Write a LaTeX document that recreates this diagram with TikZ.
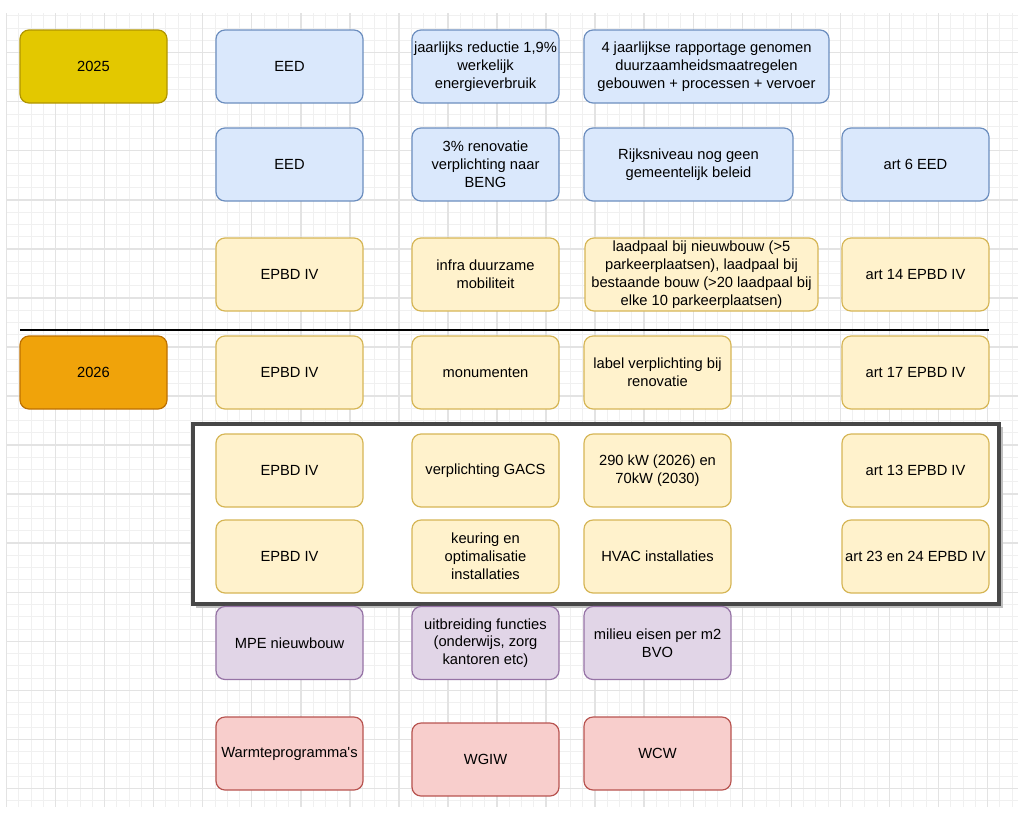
\documentclass[tikz,border=0pt]{standalone}
\usepackage{fontspec}
\setmainfont{Liberation Sans}
\newfontfamily\plainsans{Liberation Sans}
\newcommand\bxfont{\fontsize{14.7}{17.8}\selectfont}
\definecolor{blueF}{HTML}{DAE8FC}\definecolor{blueS}{HTML}{6C8EBF}
\definecolor{yelF}{HTML}{FFF2CC}\definecolor{yelS}{HTML}{D6B656}
\definecolor{purF}{HTML}{E1D5E7}\definecolor{purS}{HTML}{9673A6}
\definecolor{redF}{HTML}{F8CECC}\definecolor{redS}{HTML}{B85450}
\definecolor{goldF}{HTML}{E3C800}\definecolor{goldS}{HTML}{B09500}
\definecolor{orF}{HTML}{F0A30A}\definecolor{orS}{HTML}{BD7000}
\tikzset{
  bx/.style={rounded corners=9pt, draw, line width=1.2pt, inner sep=2pt, align=center,
    font=\bxfont, text=black, minimum width=147pt, minimum height=73pt},
  eedbox/.style={bx, fill=blueF, draw=blueS},
  epbdbox/.style={bx, fill=yelF, draw=yelS},
  mpebox/.style={bx, fill=purF, draw=purS},
  warmbox/.style={bx, fill=redF, draw=redS},
  yrA/.style={bx, fill=goldF, draw=goldS},
  yrB/.style={bx, fill=orF, draw=orS},
  minorline/.style={draw=black!6, line width=0.9pt},
  majorline/.style={draw=black!11, line width=1.4pt},
}
\begin{document}
\begin{tikzpicture}[x=1pt,y=-1pt]
\useasboundingbox[fill=white] (0,0) rectangle (1024,833);
% grid
\foreach \k in {0,...,82} \draw[minorline] ({6.5+12.2625*\k},13) -- ({6.5+12.2625*\k},807);
\foreach \k in {1,...,65} \draw[minorline] (7,{3.6+12.2625*\k}) -- (1018,{3.6+12.2625*\k});
\foreach \k in {0,...,20} \draw[majorline] ({6.5+49.05*\k},13) -- ({6.5+49.05*\k},807);
\foreach \k in {1,...,16} \draw[majorline] (7,{3.6+49.05*\k}) -- (1018,{3.6+49.05*\k});
% frame
\fill[black!25] (196,427) rectangle (1002.5,607.5);
\draw[line width=3.5pt, draw=black!72, fill=white] (193,424) rectangle (999,604);
% separator
\coordinate (sepL) at (20,330);
\coordinate (sepR) at (989,330);
\draw[line width=2.2pt, black] (sepL) -- (sepR);
% row 1
\node[yrA] (y25) at (93.5,66.5) {2025};
\node[eedbox] (eed1) at (289.5,66.5) {EED};
\node[eedbox] (jaar) at (485.5,66.5) {jaarlijks reductie 1,9\%\\werkelijk\\energieverbruik};
\node[eedbox, minimum width=245pt] (rapp) at (706.5,66.5) {4 jaarlijkse rapportage genomen\\duurzaamheidsmaatregelen\\gebouwen + processen + vervoer};
% row 2
\node[eedbox] (eed2) at (289.5,164.5) {EED};
\node[eedbox] (reno) at (485.5,164.5) {3\% renovatie\\verplichting naar\\BENG};
\node[eedbox, minimum width=209pt] (rijk) at (688.5,164.5) {Rijksniveau nog geen\\gemeentelijk beleid};
\node[eedbox] (art6) at (915.5,164.5) {art 6 EED};
% row 3
\node[epbdbox] (epbd1) at (289.5,274.5) {EPBD IV};
\node[epbdbox] (infra) at (485.5,274.5) {infra duurzame\\mobiliteit};
\node[epbdbox, minimum width=233pt] (laad) at (701.5,274.5) {laadpaal bij nieuwbouw (>5\\parkeerplaatsen), laadpaal bij\\bestaande bouw (>20 laadpaal bij\\elke 10 parkeerplaatsen)};
\node[epbdbox] (art14) at (915.5,274.5) {art 14 EPBD IV};
% row 4
\node[yrB] (y26) at (93.5,372.5) {2026};
\node[epbdbox] (epbd2) at (289.5,372.5) {EPBD IV};
\node[epbdbox] (monu) at (485.5,372.5) {monumenten};
\node[epbdbox] (label) at (657.5,372.5) {label verplichting bij\\renovatie};
\node[epbdbox] (art17) at (915.5,372.5) {art 17 EPBD IV};
% row 5
\node[epbdbox] (epbd3) at (289.5,470.5) {EPBD IV};
\node[epbdbox] (gacs) at (485.5,470.5) {verplichting GACS};
\node[epbdbox] (kw) at (657.5,470.5) {290 kW (2026) en\\70kW (2030)};
\node[epbdbox] (art13) at (915.5,470.5) {art 13 EPBD IV};
% row 6
\node[epbdbox] (epbd4) at (289.5,556.5) {EPBD IV};
\node[epbdbox] (keur) at (485.5,556.5) {keuring en\\optimalisatie\\installaties};
\node[epbdbox] (hvac) at (657.5,556.5) {HVAC installaties};
\node[epbdbox] (art23) at (915.5,556.5) {art 23 en 24 EPBD IV};
% row 7
\node[mpebox] (mpe) at (289.5,643) {MPE nieuwbouw};
\node[mpebox] (uitb) at (485.5,643) {uitbreiding functies\\(onderwijs, zorg\\kantoren etc)};
\node[mpebox] (mil) at (657.5,643) {milieu eisen per m2\\BVO};
% row 8
\node[warmbox] (warm) at (289.5,753.5) {{\plainsans Warmteprogramma's}};
\node[warmbox] (wgiw) at (485.5,759.5) {WGIW};
\node[warmbox] (wcw) at (657.5,753.5) {WCW};
\end{tikzpicture}
\end{document}
